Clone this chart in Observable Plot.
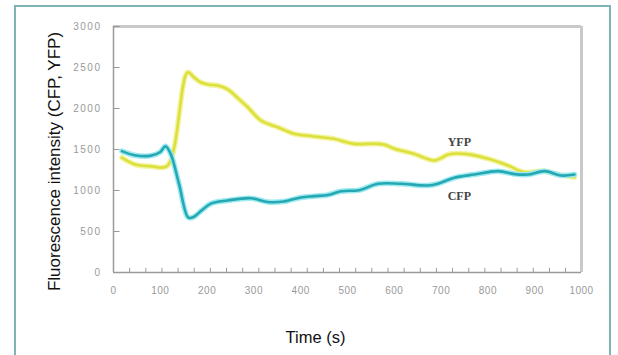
<!DOCTYPE html>
<html><head><meta charset="utf-8">
<script src="https://cdn.jsdelivr.net/npm/d3@7"></script>
<script src="https://cdn.jsdelivr.net/npm/@observablehq/plot@0.6"></script>
<style>
body{margin:0;background:#fff;}
#wrap{position:relative;width:618px;height:355px;overflow:hidden;}
#border{position:absolute;left:14px;top:5px;width:597px;height:400px;border:2px solid #7fb4b6;box-sizing:border-box;}
#chart{position:absolute;left:0;top:0;}
.ylab text{letter-spacing:1.5px;}
.xlab text{letter-spacing:0.5px;}
</style></head>
<body><div id="wrap"><div id="border"></div><div id="chart"></div></div>
<script>
const yfpTime  = [18, 45, 80, 115, 158, 172, 186, 205, 223, 245, 265, 287, 315, 351, 386, 428, 471, 514, 556, 578, 600, 640, 685, 700, 715, 750, 801, 843, 878, 921, 953, 985];
const yfpValue = [1400, 1320, 1295, 1300, 2440, 2380, 2320, 2290, 2280, 2230, 2130, 2016, 1854, 1772, 1691, 1659, 1630, 1569, 1570, 1560, 1510, 1450, 1366, 1395, 1439, 1447, 1386, 1305, 1223, 1236, 1190, 1162];
const cfpTime  = [18, 45, 80, 100, 111, 122, 140, 160, 172, 188, 208, 244, 293, 330, 364, 400, 428, 458, 486, 525, 565, 614, 672, 693, 728, 771, 822, 857, 886, 921, 957, 985];
const cfpValue = [1480, 1430, 1425, 1470, 1540, 1450, 1080, 670, 680, 756, 840, 878, 906, 860, 866, 915, 931, 945, 991, 1004, 1082, 1082, 1061, 1082, 1155, 1195, 1236, 1200, 1195, 1236, 1183, 1195];
const xTicks = [0, 100, 200, 300, 400, 500, 600, 700, 800, 900, 1000];
const yTicks = [0, 500, 1000, 1500, 2000, 2500, 3000];
const minorTicks = d3.range(1, 29).map(k => k * 34.5);
const seriesNames = ["YFP", "CFP"];
const labelTime = [739, 739];
const labelValue = [1585, 927];

const yfp = yfpTime.map((t, i) => ({t, v: yfpValue[i]}));
const cfp = cfpTime.map((t, i) => ({t, v: cfpValue[i]}));
const labels = seriesNames.map((s, i) => ({s, t: labelTime[i], v: labelValue[i]}));

const chart = Plot.plot({
  width: 618, height: 355,
  marginLeft: 113, marginRight: 37, marginTop: 26, marginBottom: 83,
  x: {domain: [0, 1000], axis: null},
  y: {domain: [0, 3000], axis: null},
  style: {fontFamily: "'Liberation Sans', Arial, sans-serif", background: "transparent"},
  marks: [
    Plot.ruleY([3000], {stroke: "#c9c9c9", strokeWidth: 3}),
    Plot.ruleX([1000], {stroke: "#c9c9c9", strokeWidth: 3}),
    Plot.ruleX([0], {stroke: "#9a9a9a", strokeWidth: 1.5}),
    Plot.ruleY([0], {stroke: "#9a9a9a", strokeWidth: 1.5}),
    Plot.ruleX(minorTicks, {y1: 0, y2: 50, stroke: "#999", strokeWidth: 1}),
    Plot.ruleY(yTicks, {x1: 0, x2: 14, stroke: "#999", strokeWidth: 1}),
    Plot.text(xTicks, {x: d => d, y: 0, dy: 18, text: d => String(d), lineAnchor: "middle", fontSize: 10, fill: "#999", className: "xlab"}),
    Plot.text(yTicks, {x: 0, y: d => d, dx: -12, text: d => String(d), textAnchor: "end", lineAnchor: "middle", fontSize: 10, fill: "#999", className: "ylab"}),
    Plot.line(yfp, {x: "t", y: "v", stroke: "#f2f4a0", strokeWidth: 5.5, curve: "catmull-rom"}),
    Plot.line(yfp, {x: "t", y: "v", stroke: "#dde03c", strokeWidth: 2.6, curve: "catmull-rom"}),
    Plot.line(cfp, {x: "t", y: "v", stroke: "#9eeaf0", strokeWidth: 5.5, curve: "catmull-rom"}),
    Plot.line(cfp, {x: "t", y: "v", stroke: "#25a8b3", strokeWidth: 2.6, curve: "catmull-rom"}),
    Plot.text(labels, {x: "t", y: "v", text: "s", fontFamily: "'Liberation Serif', 'Times New Roman', serif", fontWeight: "bold", fontSize: 12, fill: "#444", lineAnchor: "middle"}),
    Plot.text(["Fluorescence intensity (CFP, YFP)"], {frameAnchor: "left", textAnchor: "middle", rotate: -90, dx: -59, dy: 12, fontSize: 17, fill: "#111", lineAnchor: "middle"}),
    Plot.text(["Time (s)"], {frameAnchor: "bottom", textAnchor: "middle", dx: -32, dy: 65, fontSize: 16.5, fill: "#111", lineAnchor: "middle"})
  ]
});
document.getElementById("chart").appendChild(chart);
</script>
</body></html>
